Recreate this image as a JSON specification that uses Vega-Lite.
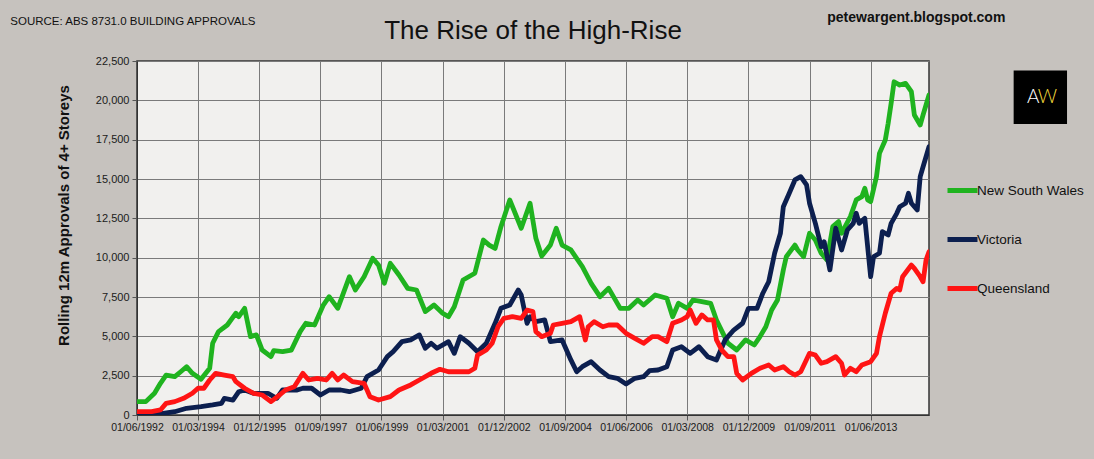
{
  "$schema": "https://vega.github.io/schema/vega-lite/v6.json",
  "autosize": "none",
  "padding": {"left": 137, "top": 61, "right": 165, "bottom": 44},
  "width": 792,
  "height": 354,
  "background": "#c6c2be",
  "title": {
    "text": "The Rise of the High-Rise",
    "font": "Liberation Sans",
    "fontSize": 26,
    "fontWeight": "normal",
    "color": "#111111",
    "anchor": "middle",
    "frame": "group",
    "offset": 16,
    "dy": 49
  },
  "layer": [
    {
      "data": {
        "values": [
          {"d": "1992-06", "s": "N", "v": 850}, {"d": "1992-09", "s": "N", "v": 850}, {"d": "1992-12", "s": "N", "v": 1380},
          {"d": "1993-02", "s": "N", "v": 2015}, {"d": "1993-04", "s": "N", "v": 2540}, {"d": "1993-07", "s": "N", "v": 2435},
          {"d": "1993-09", "s": "N", "v": 2750}, {"d": "1993-11", "s": "N", "v": 3070}, {"d": "1994-01", "s": "N", "v": 2650},
          {"d": "1994-04", "s": "N", "v": 2270}, {"d": "1994-07", "s": "N", "v": 2970}, {"d": "1994-08", "s": "N", "v": 4560},
          {"d": "1994-10", "s": "N", "v": 5300}, {"d": "1995-01", "s": "N", "v": 5720}, {"d": "1995-04", "s": "N", "v": 6470},
          {"d": "1995-05", "s": "N", "v": 6250}, {"d": "1995-07", "s": "N", "v": 6780}, {"d": "1995-09", "s": "N", "v": 4980},
          {"d": "1995-11", "s": "N", "v": 5090}, {"d": "1996-01", "s": "N", "v": 4130}, {"d": "1996-04", "s": "N", "v": 3710},
          {"d": "1996-05", "s": "N", "v": 4090}, {"d": "1996-08", "s": "N", "v": 4025}, {"d": "1996-11", "s": "N", "v": 4130},
          {"d": "1997-02", "s": "N", "v": 5300}, {"d": "1997-04", "s": "N", "v": 5830}, {"d": "1997-07", "s": "N", "v": 5720},
          {"d": "1997-10", "s": "N", "v": 6990}, {"d": "1997-12", "s": "N", "v": 7520}, {"d": "1998-03", "s": "N", "v": 6780},
          {"d": "1998-07", "s": "N", "v": 8790}, {"d": "1998-09", "s": "N", "v": 7945}, {"d": "1998-12", "s": "N", "v": 8790},
          {"d": "1999-03", "s": "N", "v": 9960}, {"d": "1999-05", "s": "N", "v": 9530}, {"d": "1999-07", "s": "N", "v": 8370},
          {"d": "1999-09", "s": "N", "v": 9640}, {"d": "1999-12", "s": "N", "v": 8900}, {"d": "2000-03", "s": "N", "v": 8050},
          {"d": "2000-06", "s": "N", "v": 7945}, {"d": "2000-09", "s": "N", "v": 6570}, {"d": "2000-12", "s": "N", "v": 6990},
          {"d": "2001-03", "s": "N", "v": 6470}, {"d": "2001-05", "s": "N", "v": 6250}, {"d": "2001-07", "s": "N", "v": 6880},
          {"d": "2001-10", "s": "N", "v": 8580}, {"d": "2002-02", "s": "N", "v": 9010}, {"d": "2002-05", "s": "N", "v": 11120},
          {"d": "2002-07", "s": "N", "v": 10800}, {"d": "2002-09", "s": "N", "v": 10590}, {"d": "2002-11", "s": "N", "v": 11970},
          {"d": "2003-02", "s": "N", "v": 13670}, {"d": "2003-06", "s": "N", "v": 11870}, {"d": "2003-09", "s": "N", "v": 13460},
          {"d": "2003-11", "s": "N", "v": 11230}, {"d": "2004-01", "s": "N", "v": 10100}, {"d": "2004-04", "s": "N", "v": 10800},
          {"d": "2004-06", "s": "N", "v": 11870}, {"d": "2004-08", "s": "N", "v": 10800}, {"d": "2004-11", "s": "N", "v": 10490},
          {"d": "2005-03", "s": "N", "v": 9430}, {"d": "2005-06", "s": "N", "v": 8370}, {"d": "2005-09", "s": "N", "v": 7520},
          {"d": "2005-12", "s": "N", "v": 8050}, {"d": "2006-04", "s": "N", "v": 6780}, {"d": "2006-07", "s": "N", "v": 6780},
          {"d": "2006-10", "s": "N", "v": 7310}, {"d": "2006-12", "s": "N", "v": 6990}, {"d": "2007-04", "s": "N", "v": 7630},
          {"d": "2007-08", "s": "N", "v": 7420}, {"d": "2007-10", "s": "N", "v": 6250}, {"d": "2007-12", "s": "N", "v": 7100},
          {"d": "2008-03", "s": "N", "v": 6780}, {"d": "2008-05", "s": "N", "v": 7310}, {"d": "2008-08", "s": "N", "v": 7200},
          {"d": "2008-11", "s": "N", "v": 7100}, {"d": "2009-01", "s": "N", "v": 6040}, {"d": "2009-03", "s": "N", "v": 5300},
          {"d": "2009-05", "s": "N", "v": 4560}, {"d": "2009-08", "s": "N", "v": 4130}, {"d": "2009-11", "s": "N", "v": 4770},
          {"d": "2010-02", "s": "N", "v": 4450}, {"d": "2010-04", "s": "N", "v": 4980}, {"d": "2010-06", "s": "N", "v": 5610},
          {"d": "2010-08", "s": "N", "v": 6670}, {"d": "2010-10", "s": "N", "v": 7310}, {"d": "2010-12", "s": "N", "v": 9220},
          {"d": "2011-01", "s": "N", "v": 10060}, {"d": "2011-04", "s": "N", "v": 10800}, {"d": "2011-05", "s": "N", "v": 10490},
          {"d": "2011-07", "s": "N", "v": 10060}, {"d": "2011-09", "s": "N", "v": 11550}, {"d": "2011-11", "s": "N", "v": 11120},
          {"d": "2012-01", "s": "N", "v": 10280}, {"d": "2012-03", "s": "N", "v": 9850}, {"d": "2012-05", "s": "N", "v": 11970},
          {"d": "2012-07", "s": "N", "v": 12290}, {"d": "2012-08", "s": "N", "v": 11550}, {"d": "2012-11", "s": "N", "v": 12610},
          {"d": "2013-01", "s": "N", "v": 13670}, {"d": "2013-03", "s": "N", "v": 13880}, {"d": "2013-04", "s": "N", "v": 14410},
          {"d": "2013-05", "s": "N", "v": 13670}, {"d": "2013-06", "s": "N", "v": 13560}, {"d": "2013-08", "s": "N", "v": 15150},
          {"d": "2013-09", "s": "N", "v": 16630}, {"d": "2013-11", "s": "N", "v": 17480}, {"d": "2013-12", "s": "N", "v": 18540},
          {"d": "2014-01", "s": "N", "v": 19810}, {"d": "2014-02", "s": "N", "v": 21180}, {"d": "2014-04", "s": "N", "v": 20970},
          {"d": "2014-06", "s": "N", "v": 21080}, {"d": "2014-08", "s": "N", "v": 20550}, {"d": "2014-09", "s": "N", "v": 19070},
          {"d": "2014-11", "s": "N", "v": 18430}, {"d": "2014-12", "s": "N", "v": 19070}, {"d": "2015-02", "s": "N", "v": 20340},

          {"d": "1992-06", "s": "V", "v": 100}, {"d": "1993-03", "s": "V", "v": 100}, {"d": "1993-07", "s": "V", "v": 210},
          {"d": "1993-11", "s": "V", "v": 425}, {"d": "1994-04", "s": "V", "v": 530}, {"d": "1994-08", "s": "V", "v": 640},
          {"d": "1994-11", "s": "V", "v": 740}, {"d": "1994-12", "s": "V", "v": 1060}, {"d": "1995-03", "s": "V", "v": 950},
          {"d": "1995-05", "s": "V", "v": 1480}, {"d": "1995-07", "s": "V", "v": 1590}, {"d": "1995-10", "s": "V", "v": 1380},
          {"d": "1996-03", "s": "V", "v": 1380}, {"d": "1996-06", "s": "V", "v": 1060}, {"d": "1996-08", "s": "V", "v": 1590},
          {"d": "1997-01", "s": "V", "v": 1590}, {"d": "1997-03", "s": "V", "v": 1700}, {"d": "1997-06", "s": "V", "v": 1700},
          {"d": "1997-09", "s": "V", "v": 1270}, {"d": "1997-12", "s": "V", "v": 1590}, {"d": "1998-04", "s": "V", "v": 1590},
          {"d": "1998-07", "s": "V", "v": 1480}, {"d": "1998-11", "s": "V", "v": 1700}, {"d": "1999-01", "s": "V", "v": 2435},
          {"d": "1999-05", "s": "V", "v": 2860}, {"d": "1999-08", "s": "V", "v": 3710}, {"d": "1999-10", "s": "V", "v": 4025},
          {"d": "2000-01", "s": "V", "v": 4660}, {"d": "2000-04", "s": "V", "v": 4770}, {"d": "2000-07", "s": "V", "v": 5090},
          {"d": "2000-09", "s": "V", "v": 4240}, {"d": "2000-11", "s": "V", "v": 4560}, {"d": "2001-01", "s": "V", "v": 4240},
          {"d": "2001-05", "s": "V", "v": 4660}, {"d": "2001-07", "s": "V", "v": 3920}, {"d": "2001-09", "s": "V", "v": 4980},
          {"d": "2001-12", "s": "V", "v": 4560}, {"d": "2002-03", "s": "V", "v": 4025}, {"d": "2002-06", "s": "V", "v": 4560},
          {"d": "2002-09", "s": "V", "v": 5830}, {"d": "2002-11", "s": "V", "v": 6780}, {"d": "2003-02", "s": "V", "v": 6990},
          {"d": "2003-05", "s": "V", "v": 7945}, {"d": "2003-06", "s": "V", "v": 7630}, {"d": "2003-08", "s": "V", "v": 5830},
          {"d": "2003-09", "s": "V", "v": 6250}, {"d": "2003-11", "s": "V", "v": 5930}, {"d": "2004-02", "s": "V", "v": 6040},
          {"d": "2004-04", "s": "V", "v": 4660}, {"d": "2004-08", "s": "V", "v": 4770}, {"d": "2004-11", "s": "V", "v": 3500},
          {"d": "2005-01", "s": "V", "v": 2750}, {"d": "2005-03", "s": "V", "v": 3070}, {"d": "2005-06", "s": "V", "v": 3390},
          {"d": "2005-09", "s": "V", "v": 2860}, {"d": "2005-12", "s": "V", "v": 2435}, {"d": "2006-03", "s": "V", "v": 2330},
          {"d": "2006-06", "s": "V", "v": 1970}, {"d": "2006-09", "s": "V", "v": 2330}, {"d": "2006-12", "s": "V", "v": 2435},
          {"d": "2007-02", "s": "V", "v": 2815}, {"d": "2007-05", "s": "V", "v": 2860}, {"d": "2007-08", "s": "V", "v": 3070},
          {"d": "2007-10", "s": "V", "v": 4130}, {"d": "2008-01", "s": "V", "v": 4340}, {"d": "2008-04", "s": "V", "v": 3920},
          {"d": "2008-07", "s": "V", "v": 4340}, {"d": "2008-10", "s": "V", "v": 3710}, {"d": "2009-01", "s": "V", "v": 3500},
          {"d": "2009-04", "s": "V", "v": 4770}, {"d": "2009-07", "s": "V", "v": 5400}, {"d": "2009-10", "s": "V", "v": 5830},
          {"d": "2009-12", "s": "V", "v": 6780}, {"d": "2010-03", "s": "V", "v": 6780}, {"d": "2010-05", "s": "V", "v": 7740},
          {"d": "2010-07", "s": "V", "v": 8470}, {"d": "2010-09", "s": "V", "v": 10280}, {"d": "2010-11", "s": "V", "v": 11550},
          {"d": "2010-12", "s": "V", "v": 13240}, {"d": "2011-02", "s": "V", "v": 14090}, {"d": "2011-04", "s": "V", "v": 14940},
          {"d": "2011-06", "s": "V", "v": 15150}, {"d": "2011-08", "s": "V", "v": 14620}, {"d": "2011-09", "s": "V", "v": 13460},
          {"d": "2011-11", "s": "V", "v": 12180}, {"d": "2012-01", "s": "V", "v": 10700}, {"d": "2012-02", "s": "V", "v": 11010},
          {"d": "2012-04", "s": "V", "v": 9220}, {"d": "2012-06", "s": "V", "v": 11870}, {"d": "2012-08", "s": "V", "v": 10490},
          {"d": "2012-10", "s": "V", "v": 11760}, {"d": "2012-12", "s": "V", "v": 12180}, {"d": "2013-01", "s": "V", "v": 12820},
          {"d": "2013-02", "s": "V", "v": 12180}, {"d": "2013-04", "s": "V", "v": 12500}, {"d": "2013-06", "s": "V", "v": 8790},
          {"d": "2013-07", "s": "V", "v": 10060}, {"d": "2013-09", "s": "V", "v": 10280}, {"d": "2013-10", "s": "V", "v": 11650},
          {"d": "2013-12", "s": "V", "v": 11440}, {"d": "2014-01", "s": "V", "v": 12180}, {"d": "2014-03", "s": "V", "v": 12820},
          {"d": "2014-04", "s": "V", "v": 13240}, {"d": "2014-06", "s": "V", "v": 13460}, {"d": "2014-07", "s": "V", "v": 14090},
          {"d": "2014-08", "s": "V", "v": 13460}, {"d": "2014-10", "s": "V", "v": 13030}, {"d": "2014-11", "s": "V", "v": 15150},
          {"d": "2014-12", "s": "V", "v": 15780}, {"d": "2015-02", "s": "V", "v": 17050},

          {"d": "1992-06", "s": "Q", "v": 210}, {"d": "1992-11", "s": "Q", "v": 210}, {"d": "1993-02", "s": "Q", "v": 320},
          {"d": "1993-04", "s": "Q", "v": 740}, {"d": "1993-07", "s": "Q", "v": 850}, {"d": "1993-10", "s": "Q", "v": 1060},
          {"d": "1994-01", "s": "Q", "v": 1380}, {"d": "1994-03", "s": "Q", "v": 1700}, {"d": "1994-05", "s": "Q", "v": 1700},
          {"d": "1994-07", "s": "Q", "v": 2225}, {"d": "1994-09", "s": "Q", "v": 2650}, {"d": "1994-12", "s": "Q", "v": 2540},
          {"d": "1995-03", "s": "Q", "v": 2435}, {"d": "1995-04", "s": "Q", "v": 2120}, {"d": "1995-07", "s": "Q", "v": 1700},
          {"d": "1995-10", "s": "Q", "v": 1380}, {"d": "1996-01", "s": "Q", "v": 1270}, {"d": "1996-04", "s": "Q", "v": 850},
          {"d": "1996-07", "s": "Q", "v": 1270}, {"d": "1996-09", "s": "Q", "v": 1590}, {"d": "1996-12", "s": "Q", "v": 1800},
          {"d": "1997-03", "s": "Q", "v": 2650}, {"d": "1997-05", "s": "Q", "v": 2225}, {"d": "1997-08", "s": "Q", "v": 2330},
          {"d": "1997-11", "s": "Q", "v": 2225}, {"d": "1998-01", "s": "Q", "v": 2650}, {"d": "1998-03", "s": "Q", "v": 2225},
          {"d": "1998-05", "s": "Q", "v": 2540}, {"d": "1998-08", "s": "Q", "v": 2120}, {"d": "1998-12", "s": "Q", "v": 2015},
          {"d": "1999-02", "s": "Q", "v": 1165}, {"d": "1999-05", "s": "Q", "v": 950}, {"d": "1999-09", "s": "Q", "v": 1165},
          {"d": "1999-12", "s": "Q", "v": 1590}, {"d": "2000-04", "s": "Q", "v": 1910}, {"d": "2000-07", "s": "Q", "v": 2225},
          {"d": "2000-11", "s": "Q", "v": 2650}, {"d": "2001-02", "s": "Q", "v": 2905}, {"d": "2001-05", "s": "Q", "v": 2750},
          {"d": "2001-09", "s": "Q", "v": 2750}, {"d": "2001-12", "s": "Q", "v": 2750}, {"d": "2002-02", "s": "Q", "v": 2970},
          {"d": "2002-03", "s": "Q", "v": 3810}, {"d": "2002-06", "s": "Q", "v": 4130}, {"d": "2002-08", "s": "Q", "v": 4560},
          {"d": "2002-10", "s": "Q", "v": 5610}, {"d": "2002-12", "s": "Q", "v": 6140}, {"d": "2003-03", "s": "Q", "v": 6250},
          {"d": "2003-06", "s": "Q", "v": 6140}, {"d": "2003-08", "s": "Q", "v": 6670}, {"d": "2003-10", "s": "Q", "v": 6570},
          {"d": "2003-11", "s": "Q", "v": 5300}, {"d": "2004-01", "s": "Q", "v": 4980}, {"d": "2004-04", "s": "Q", "v": 5190},
          {"d": "2004-05", "s": "Q", "v": 5720}, {"d": "2004-08", "s": "Q", "v": 5830}, {"d": "2004-11", "s": "Q", "v": 5930},
          {"d": "2005-02", "s": "Q", "v": 6250}, {"d": "2005-04", "s": "Q", "v": 4770}, {"d": "2005-05", "s": "Q", "v": 5610},
          {"d": "2005-07", "s": "Q", "v": 5930}, {"d": "2005-10", "s": "Q", "v": 5610}, {"d": "2005-12", "s": "Q", "v": 5720},
          {"d": "2006-03", "s": "Q", "v": 5720}, {"d": "2006-06", "s": "Q", "v": 5190}, {"d": "2006-09", "s": "Q", "v": 4875},
          {"d": "2006-12", "s": "Q", "v": 4560}, {"d": "2007-03", "s": "Q", "v": 4980}, {"d": "2007-05", "s": "Q", "v": 4980},
          {"d": "2007-08", "s": "Q", "v": 4660}, {"d": "2007-10", "s": "Q", "v": 5830}, {"d": "2008-01", "s": "Q", "v": 6040},
          {"d": "2008-03", "s": "Q", "v": 6250}, {"d": "2008-04", "s": "Q", "v": 6670}, {"d": "2008-06", "s": "Q", "v": 5830},
          {"d": "2008-08", "s": "Q", "v": 6360}, {"d": "2008-10", "s": "Q", "v": 6040}, {"d": "2008-12", "s": "Q", "v": 6040},
          {"d": "2009-01", "s": "Q", "v": 4770}, {"d": "2009-03", "s": "Q", "v": 4100}, {"d": "2009-05", "s": "Q", "v": 3710},
          {"d": "2009-07", "s": "Q", "v": 3710}, {"d": "2009-08", "s": "Q", "v": 2650}, {"d": "2009-10", "s": "Q", "v": 2225},
          {"d": "2010-01", "s": "Q", "v": 2650}, {"d": "2010-04", "s": "Q", "v": 2970}, {"d": "2010-07", "s": "Q", "v": 3180},
          {"d": "2010-09", "s": "Q", "v": 2860}, {"d": "2010-12", "s": "Q", "v": 3070}, {"d": "2011-02", "s": "Q", "v": 2750},
          {"d": "2011-04", "s": "Q", "v": 2540}, {"d": "2011-06", "s": "Q", "v": 2750}, {"d": "2011-09", "s": "Q", "v": 3920},
          {"d": "2011-11", "s": "Q", "v": 3810}, {"d": "2012-01", "s": "Q", "v": 3290}, {"d": "2012-03", "s": "Q", "v": 3390},
          {"d": "2012-06", "s": "Q", "v": 3710}, {"d": "2012-08", "s": "Q", "v": 3290}, {"d": "2012-09", "s": "Q", "v": 2540},
          {"d": "2012-11", "s": "Q", "v": 2970}, {"d": "2013-01", "s": "Q", "v": 2750}, {"d": "2013-03", "s": "Q", "v": 3180},
          {"d": "2013-06", "s": "Q", "v": 3390}, {"d": "2013-08", "s": "Q", "v": 3920}, {"d": "2013-09", "s": "Q", "v": 4980},
          {"d": "2013-11", "s": "Q", "v": 6470}, {"d": "2014-01", "s": "Q", "v": 7740}, {"d": "2014-03", "s": "Q", "v": 8050},
          {"d": "2014-04", "s": "Q", "v": 7945}, {"d": "2014-05", "s": "Q", "v": 8790}, {"d": "2014-08", "s": "Q", "v": 9530},
          {"d": "2014-09", "s": "Q", "v": 9320}, {"d": "2014-11", "s": "Q", "v": 8790}, {"d": "2014-12", "s": "Q", "v": 8470},
          {"d": "2015-01", "s": "Q", "v": 9850}, {"d": "2015-02", "s": "Q", "v": 10380}
        ],
        "format": {"parse": {"d": "date:'%Y-%m'"}}
      },
      "mark": {"type": "line", "strokeWidth": 4.8, "strokeJoin": "round", "strokeCap": "round", "clip": true},
      "encoding": {
        "x": {
          "field": "d",
          "type": "temporal",
          "scale": {"domain": [{"year": 1992, "month": 6, "date": 1}, {"year": 2015, "month": 2, "date": 1}]},
          "axis": {
            "title": null,
            "format": "%d/%m/%Y",
            "values": [
              {"year": 1992, "month": 6, "date": 1}, {"year": 1994, "month": 3, "date": 1},
              {"year": 1995, "month": 12, "date": 1}, {"year": 1997, "month": 9, "date": 1},
              {"year": 1999, "month": 6, "date": 1}, {"year": 2001, "month": 3, "date": 1},
              {"year": 2002, "month": 12, "date": 1}, {"year": 2004, "month": 9, "date": 1},
              {"year": 2006, "month": 6, "date": 1}, {"year": 2008, "month": 3, "date": 1},
              {"year": 2009, "month": 12, "date": 1}, {"year": 2011, "month": 9, "date": 1},
              {"year": 2013, "month": 6, "date": 1}
            ],
            "labelFontSize": 10.5,
            "labelFlush": false,
            "labelOverlap": false,
            "tickSize": 5,
            "labelPadding": 2
          }
        },
        "y": {
          "field": "v",
          "type": "quantitative",
          "scale": {"domain": [0, 22500], "nice": false},
          "axis": {
            "title": "Rolling 12m Approvals of 4+ Storeys",
            "values": [0, 2500, 5000, 7500, 10000, 12500, 15000, 17500, 20000, 22500],
            "labelExpr": "format(datum.value, ',')",
            "labelFontSize": 11,
            "tickSize": 5,
            "labelPadding": 3,
            "titlePadding": 24,
            "titleY": 154
          }
        },
        "color": {
          "field": "s",
          "type": "nominal",
          "scale": {"domain": ["N", "V", "Q"], "range": ["#1fb31f", "#0c1f4f", "#ff1414"]},
          "legend": {
            "title": null,
            "orient": "none",
            "legendX": 808,
            "legendY": 112,
            "symbolType": "stroke",
            "symbolSize": 900,
            "symbolStrokeWidth": 5,
            "rowPadding": 21,
            "labelOffset": -3,
            "labelExpr": "datum.label == 'N' ? 'New South Wales' : datum.label == 'V' ? 'Victoria' : 'Queensland'"
          }
        }
      }
    },
    {
      "data": {"values": [{"t": "SOURCE: ABS 8731.0 BUILDING APPROVALS"}]},
      "mark": {"type": "text", "align": "left", "baseline": "middle", "font": "Liberation Sans", "fontSize": 11.5, "color": "#111111", "clip": false},
      "encoding": {
        "x": {
          "datum": {"year": 1988, "month": 10, "date": 15},
          "type": "temporal",
          "scale": {"domain": [{"year": 1992, "month": 6, "date": 1}, {"year": 2015, "month": 2, "date": 1}]},
          "axis": {
            "title": null,
            "format": "%d/%m/%Y",
            "values": [
              {"year": 1992, "month": 6, "date": 1}, {"year": 1994, "month": 3, "date": 1},
              {"year": 1995, "month": 12, "date": 1}, {"year": 1997, "month": 9, "date": 1},
              {"year": 1999, "month": 6, "date": 1}, {"year": 2001, "month": 3, "date": 1},
              {"year": 2002, "month": 12, "date": 1}, {"year": 2004, "month": 9, "date": 1},
              {"year": 2006, "month": 6, "date": 1}, {"year": 2008, "month": 3, "date": 1},
              {"year": 2009, "month": 12, "date": 1}, {"year": 2011, "month": 9, "date": 1},
              {"year": 2013, "month": 6, "date": 1}
            ],
            "labelFontSize": 10.5,
            "labelFlush": false,
            "labelOverlap": false,
            "tickSize": 5,
            "labelPadding": 2
          }
        },
        "y": {
          "datum": 25000,
          "type": "quantitative",
          "scale": {"domain": [0, 22500], "nice": false},
          "axis": {
            "title": "Rolling 12m Approvals of 4+ Storeys",
            "values": [0, 2500, 5000, 7500, 10000, 12500, 15000, 17500, 20000, 22500],
            "labelExpr": "format(datum.value, ',')",
            "labelFontSize": 11,
            "tickSize": 5,
            "labelPadding": 3,
            "titlePadding": 24,
            "titleY": 154
          }
        },
        "text": {"field": "t"}
      }
    },
    {
      "data": {"values": [{"t": "petewargent.blogspot.com"}]},
      "mark": {"type": "text", "align": "center", "baseline": "middle", "font": "Liberation Sans", "fontSize": 14, "fontWeight": "bold", "color": "#111111", "clip": false},
      "encoding": {
        "x": {
          "datum": {"year": 2014, "month": 9, "date": 21},
          "type": "temporal",
          "scale": {"domain": [{"year": 1992, "month": 6, "date": 1}, {"year": 2015, "month": 2, "date": 1}]},
          "axis": {
            "title": null,
            "format": "%d/%m/%Y",
            "values": [
              {"year": 1992, "month": 6, "date": 1}, {"year": 1994, "month": 3, "date": 1},
              {"year": 1995, "month": 12, "date": 1}, {"year": 1997, "month": 9, "date": 1},
              {"year": 1999, "month": 6, "date": 1}, {"year": 2001, "month": 3, "date": 1},
              {"year": 2002, "month": 12, "date": 1}, {"year": 2004, "month": 9, "date": 1},
              {"year": 2006, "month": 6, "date": 1}, {"year": 2008, "month": 3, "date": 1},
              {"year": 2009, "month": 12, "date": 1}, {"year": 2011, "month": 9, "date": 1},
              {"year": 2013, "month": 6, "date": 1}
            ],
            "labelFontSize": 10.5,
            "labelFlush": false,
            "labelOverlap": false,
            "tickSize": 5,
            "labelPadding": 2
          }
        },
        "y": {
          "datum": 25230,
          "type": "quantitative",
          "scale": {"domain": [0, 22500], "nice": false},
          "axis": {
            "title": "Rolling 12m Approvals of 4+ Storeys",
            "values": [0, 2500, 5000, 7500, 10000, 12500, 15000, 17500, 20000, 22500],
            "labelExpr": "format(datum.value, ',')",
            "labelFontSize": 11,
            "tickSize": 5,
            "labelPadding": 3,
            "titlePadding": 24,
            "titleY": 154
          }
        },
        "text": {"field": "t"}
      }
    },
    {
      "data": {"values": [{"t": "AW"}]},
      "mark": {"type": "point", "shape": "square", "filled": true, "size": 2850, "color": "#000000", "opacity": 1, "clip": false},
      "encoding": {
        "x": {
          "datum": {"year": 2018, "month": 4, "date": 10},
          "type": "temporal",
          "scale": {"domain": [{"year": 1992, "month": 6, "date": 1}, {"year": 2015, "month": 2, "date": 1}]},
          "axis": {
            "title": null,
            "format": "%d/%m/%Y",
            "values": [
              {"year": 1992, "month": 6, "date": 1}, {"year": 1994, "month": 3, "date": 1},
              {"year": 1995, "month": 12, "date": 1}, {"year": 1997, "month": 9, "date": 1},
              {"year": 1999, "month": 6, "date": 1}, {"year": 2001, "month": 3, "date": 1},
              {"year": 2002, "month": 12, "date": 1}, {"year": 2004, "month": 9, "date": 1},
              {"year": 2006, "month": 6, "date": 1}, {"year": 2008, "month": 3, "date": 1},
              {"year": 2009, "month": 12, "date": 1}, {"year": 2011, "month": 9, "date": 1},
              {"year": 2013, "month": 6, "date": 1}
            ],
            "labelFontSize": 10.5,
            "labelFlush": false,
            "labelOverlap": false,
            "tickSize": 5,
            "labelPadding": 2
          }
        },
        "y": {
          "datum": 20200,
          "type": "quantitative",
          "scale": {"domain": [0, 22500], "nice": false},
          "axis": {
            "title": "Rolling 12m Approvals of 4+ Storeys",
            "values": [0, 2500, 5000, 7500, 10000, 12500, 15000, 17500, 20000, 22500],
            "labelExpr": "format(datum.value, ',')",
            "labelFontSize": 11,
            "tickSize": 5,
            "labelPadding": 3,
            "titlePadding": 24,
            "titleY": 154
          }
        }
      }
    },
    {
      "data": {"values": [{"t": "A"}, {"t": "W"}]},
      "mark": {"type": "text", "align": "center", "baseline": "middle", "font": "Lato", "fontSize": 19, "fontWeight": 300, "clip": false},
      "encoding": {
        "x": {
          "datum": {"year": 2018, "month": 4, "date": 10},
          "type": "temporal",
          "scale": {"domain": [{"year": 1992, "month": 6, "date": 1}, {"year": 2015, "month": 2, "date": 1}]},
          "axis": {
            "title": null,
            "format": "%d/%m/%Y",
            "values": [
              {"year": 1992, "month": 6, "date": 1}, {"year": 1994, "month": 3, "date": 1},
              {"year": 1995, "month": 12, "date": 1}, {"year": 1997, "month": 9, "date": 1},
              {"year": 1999, "month": 6, "date": 1}, {"year": 2001, "month": 3, "date": 1},
              {"year": 2002, "month": 12, "date": 1}, {"year": 2004, "month": 9, "date": 1},
              {"year": 2006, "month": 6, "date": 1}, {"year": 2008, "month": 3, "date": 1},
              {"year": 2009, "month": 12, "date": 1}, {"year": 2011, "month": 9, "date": 1},
              {"year": 2013, "month": 6, "date": 1}
            ],
            "labelFontSize": 10.5,
            "labelFlush": false,
            "labelOverlap": false,
            "tickSize": 5,
            "labelPadding": 2
          }
        },
        "y": {
          "datum": 20200,
          "type": "quantitative",
          "scale": {"domain": [0, 22500], "nice": false},
          "axis": {
            "title": "Rolling 12m Approvals of 4+ Storeys",
            "values": [0, 2500, 5000, 7500, 10000, 12500, 15000, 17500, 20000, 22500],
            "labelExpr": "format(datum.value, ',')",
            "labelFontSize": 11,
            "tickSize": 5,
            "labelPadding": 3,
            "titlePadding": 24,
            "titleY": 154
          }
        },
        "xOffset": {"field": "t", "type": "nominal", "scale": {"type": "point", "domain": ["A", "W"], "range": [-7, 7], "padding": 0}},
        "color": {"field": "t", "type": "nominal", "scale": {"domain": ["A", "W"], "range": ["#ffffff", "#f2d63a"]}, "legend": null},
        "text": {"field": "t"}
      }
    }
  ],
  "resolve": {"scale": {"color": "independent"}},
  "config": {
    "view": {"fill": "#f1f0ee", "stroke": "#333333", "strokeWidth": 1.5},
    "axis": {
      "labelFont": "Liberation Sans",
      "labelColor": "#1a1a1a",
      "titleFont": "Liberation Sans",
      "titleFontSize": 15,
      "titleFontWeight": "bold",
      "titleColor": "#111111",
      "grid": true,
      "gridColor": "#7a7a7a",
      "gridWidth": 1,
      "gridOpacity": 1,
      "tickColor": "#555555",
      "domainColor": "#333333"
    },
    "legend": {
      "labelFont": "Liberation Sans",
      "labelFontSize": 13.5,
      "labelColor": "#111111"
    }
  }
}
